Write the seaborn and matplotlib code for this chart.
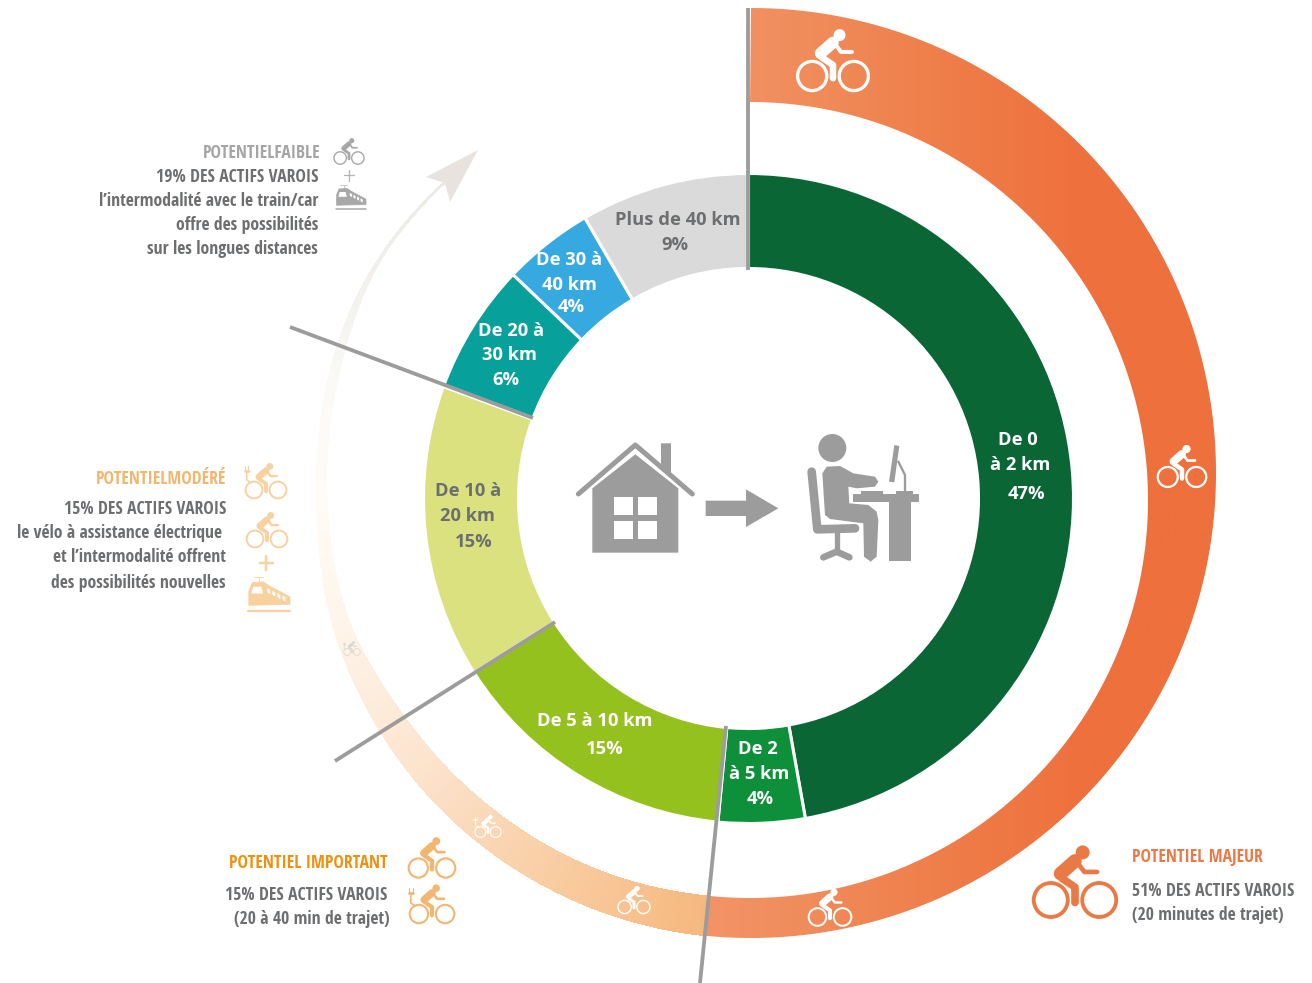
# Donut des distances domicile-travail avec anneau de potentiel velo
import numpy as np
import seaborn as sns
import matplotlib.pyplot as plt
from matplotlib.colors import to_rgb
from matplotlib.patches import Circle, Polygon

# part des actifs par tranche de distance (angles)
tranches = ["De 0 à 2 km", "De 2 à 5 km", "De 5 à 10 km", "De 10 à 20 km",
            "De 20 à 30 km", "De 30 à 40 km", "Plus de 40 km"]
parts = [47.2, 4.3, 14.5, 14.6, 6.5, 4.5, 8.4]
couleurs = ["#0A6635", "#0E8F3A", "#95C11F", "#DCE17F",
            "#08A09A", "#36A9E1", "#DADADA"]

# etiquettes du donut, ligne par ligne
etiquettes = ["De 0", "à 2 km", "47%", "De 2", "à 5 km", "4%", "De 5 à 10 km", "15%",
              "De 10 à", "20 km", "15%", "De 20 à", "30 km", "6%",
              "De 30 à", "40 km", "4%", "Plus de 40 km", "9%"]
etiq_x = [1018, 1020, 1026, 758, 759, 760, 595, 605, 468, 468, 474, 511, 509, 506,
          569, 569, 571, 678, 675]
etiq_y = [440, 465, 494, 749, 774, 799, 721, 749, 491, 516, 542, 331, 355, 380,
          260, 285, 307, 220, 245]
etiq_c = ["w"] * 8 + ["#6D6E70"] * 3 + ["w"] * 6 + ["#6D6E70"] * 2

GRIS = "#9D9C9C"
TEXTE = "#6D6E70"

sns.set_theme(style="white")
plt.rcParams["font.family"] = ["Open Sans Condensed", "DejaVu Sans"]

fig = plt.figure(figsize=(13.12, 9.83), dpi=100)
ax = fig.add_axes([0, 0, 1, 1])
PX = 0.72


def Y(py):
    return 983 - py


def ligne(xs, ys, c, w, zorder=6):
    ax.plot(xs, [Y(v) for v in ys], color=c, lw=w * PX, solid_capstyle="round",
            solid_joinstyle="round", zorder=zorder)


def velo(cx, cy, w, c, prise=False, zorder=7):
    # cx, cy : milieu entre les deux roues
    for dx in (-0.285, 0.285):
        ax.add_patch(Circle((cx + dx * w, Y(cy)), 0.2 * w, fc="none", ec=c,
                            lw=0.045 * w * PX, zorder=zorder))
    ax.add_patch(Circle((cx + 0.09 * w, Y(cy - 0.56 * w)), 0.082 * w, fc=c, ec="none", zorder=zorder))

    def seg(pts, e):
        ligne([cx + p[0] * w for p in pts], [cy - p[1] * w for p in pts], c, e * w, zorder)

    seg([(-0.17, 0.31), (0.0, 0.46)], 0.16)
    seg([(-0.16, 0.26), (0.0, 0.15), (0.0, -0.03)], 0.09)
    seg([(0.02, 0.45), (0.11, 0.33), (0.26, 0.33)], 0.055)
    if prise:
        seg([(-0.36, 0.17), (-0.46, 0.24), (-0.46, 0.42)], 0.035)
        seg([(-0.51, 0.46), (-0.41, 0.46)], 0.06)
        seg([(-0.50, 0.46), (-0.50, 0.56)], 0.025)
        seg([(-0.42, 0.46), (-0.42, 0.56)], 0.025)


def train(x, y, w, c, zorder=7):
    # x, y : coin bas gauche du dessin
    def pts(lst):
        return [(x + p * w, Y(y - q * w)) for p, q in lst]

    ax.add_patch(Polygon(pts([(0.02, 0.16), (0.02, 0.5), (0.1, 0.7), (0.36, 0.72),
                              (0.55, 0.6), (1.0, 0.36), (1.0, 0.18)]), fc=c, ec=c, lw=0.5, zorder=zorder))
    ax.add_patch(Polygon(pts([(0.08, 0.44), (0.12, 0.6), (0.32, 0.6), (0.36, 0.44)]),
                         fc="w", ec="none", zorder=zorder))
    for p in (0.46, 0.58, 0.70, 0.82):
        top = 0.6 - (p - 0.4) * 0.5
        ax.add_patch(Polygon(pts([(p, top), (p + 0.07, top - 0.04), (p + 0.07, top - 0.14), (p, top - 0.1)]),
                             fc="w", ec="none", zorder=zorder))
    ligne([x, x + w], [y - 0.03 * w, y - 0.03 * w], c, 0.05 * w, zorder)
    ligne([x + 0.14 * w, x + 0.36 * w], [y - 0.84 * w, y - 0.84 * w], c, 0.02 * w, zorder)
    ligne([x + 0.25 * w, x + 0.25 * w], [y - 0.84 * w, y - 0.72 * w], c, 0.02 * w, zorder)


def lisse(v, n=31):
    return np.convolve(np.pad(v, n // 2, mode="edge"), np.ones(n) / n, mode="valid")


# --- anneau exterieur : partie orange (degrade horizontal, clippe)
a = np.radians(np.linspace(90, -96, 300))
ext = np.c_[751 + 465 * np.cos(a), Y(473) + 465 * np.sin(a)]
inte = np.c_[750 + 398 * np.cos(a), Y(500) + 398 * np.sin(a)]
croissant = Polygon(np.r_[ext, inte[::-1]], closed=True, fc="none", ec="none", transform=ax.transData)
ax.add_patch(croissant)
degrade = sns.blend_palette(["#F39468", "#F08A58", "#EF7C48", "#EE703C", "#EE703C"], n_colors=256)
im = ax.imshow(np.array(degrade)[None, :, :], extent=[700, 1220, 0, 983], aspect="auto", zorder=1)
im.set_clip_path(croissant)

# --- anneau exterieur : partie qui s'estompe vers la gauche
ang = np.linspace(-96, -226, 300)
k_r = [96, 130, 140, 148, 164, 179, 188, 200.6, 210, 218, 226]
r_in = lisse(np.interp(-ang, k_r, [398, 402, 405, 407, 420, 422, 426, 431, 440.5, 441, 439.5]))
r_out = lisse(np.interp(-ang, k_r, [438, 437, 437, 436, 436, 432, 436, 441, 443.5, 443, 441]))
k_a = [96, 120, 140, 150, 165, 180, 195, 205, 226]
k_c = np.array([to_rgb(c) for c in ["#F6B87E", "#F9CFA6", "#FCE3CC", "#FDEBDA", "#FEF6EC",
                                    "#FFFBF6", "#FCFAF7", "#F5F3F0", "#ECE9E5"]])
for i in range(len(ang) - 1):
    t = np.radians(ang[i:i + 2])
    quad = [(750 + r_in[i] * np.cos(t[0]), Y(500) + r_in[i] * np.sin(t[0])),
            (750 + r_out[i] * np.cos(t[0]), Y(500) + r_out[i] * np.sin(t[0])),
            (750 + r_out[i + 1] * np.cos(t[1]), Y(500) + r_out[i + 1] * np.sin(t[1])),
            (750 + r_in[i + 1] * np.cos(t[1]), Y(500) + r_in[i + 1] * np.sin(t[1]))]
    coul = [np.interp(-ang[i], k_a, k_c[:, j]) for j in range(3)]
    ax.add_patch(Polygon(quad, fc=coul, ec="none", lw=0, antialiased=False, zorder=1))
ax.add_patch(Polygon([(478, Y(150)), (426, Y(177)), (445, Y(183)), (450, Y(202))],
                     fc="#E8E3DF", ec="none", zorder=1))

# --- donut
ax.pie(parts, colors=sns.color_palette(couleurs), center=(748.5, Y(498.5)), radius=325,
       startangle=90, counterclock=False,
       wedgeprops=dict(width=95, edgecolor="white", linewidth=2.2, zorder=3))

# --- traits gris
for xs, ys in [([748, 748], [8, 270]), ([290, 533], [327, 418]),
               ([335, 555], [761, 622]), ([726, 700], [726, 983])]:
    ax.plot(xs, [Y(v) for v in ys], color=GRIS, lw=3.8 * PX, zorder=5, solid_capstyle="butt")

# --- etiquettes du donut
for s, x, y, c in zip(etiquettes, etiq_x, etiq_y, etiq_c):
    ax.text(x, Y(y), s, color=c, ha="center", va="center", fontsize=13.2,
            family=["Open Sans", "DejaVu Sans"], weight="bold", zorder=8)

# --- pictos du centre
z = lambda px, py: (560 + px / 3, Y(420 + py / 3))
zl = lambda pts, e, c=GRIS: ligne([560 + p[0] / 3 for p in pts], [420 + p[1] / 3 for p in pts], c, e / 3)
zp = lambda pts, c=GRIS: ax.add_patch(Polygon([z(*p) for p in pts], fc=c, ec="none", zorder=6))

zl([(55, 222), (226, 75), (397, 222)], 15)
zp([(97, 398), (97, 205), (226, 103), (355, 205), (355, 398)])
zp([(303, 70), (333, 70), (333, 160), (303, 135)])
for x0, y0, x1, y1 in [(162, 230, 218, 285), (234, 230, 290, 285), (162, 302, 218, 357), (234, 302, 290, 357)]:
    zp([(x0, y0), (x1, y0), (x1, y1), (x0, y1)], "w")
zp([(437, 242), (558, 242), (558, 208), (655, 265), (558, 321), (558, 288), (437, 288)])

ax.add_patch(Circle(z(817, 84), 42 / 3, fc=GRIS, ec="none", zorder=6))
zp([(787, 160), (800, 140), (840, 138), (880, 160), (945, 170), (955, 185), (945, 200), (890, 205),
    (865, 200), (868, 250), (925, 255), (950, 275), (955, 300), (950, 410), (932, 425), (912, 410),
    (910, 310), (810, 297), (795, 285)])
zl([(755, 155), (772, 328), (885, 325)], 26)
zl([(830, 335), (830, 395)], 16)
zl([(790, 412), (830, 395), (868, 412)], 20)
zp([(878, 222), (1078, 222), (1078, 247), (878, 247)])
zp([(988, 247), (1052, 247), (1052, 422), (988, 422)])
zp([(1003, 75), (1018, 78), (1003, 187), (987, 185)])
zl([(1015, 125), (1035, 165), (1035, 215)], 7)
zp([(903, 212), (968, 212), (968, 222), (903, 222)])
zp([(1008, 212), (1060, 212), (1060, 222), (1008, 222)])

# --- pictos sur l'anneau
velo(833, 76, 73, "w")
velo(1182, 477, 50, "w")
velo(830, 917, 44, "w")
velo(634, 907, 33, "w")
velo(488, 832, 27, "w", prise=True)
velo(352, 652, 17, "#D8D6D4", prise=True)

# --- pictos des legendes
velo(349, 158, 31, "#A8A8A8")
velo(266, 490, 42, "#F9D19F", prise=True)
velo(267, 539, 42, "#F9D19F")
velo(432, 868, 48, "#F3B671")
velo(432, 914, 46, "#F3B671", prise=True)
velo(1075, 900, 85, "#EA7A45")
train(336, 210, 30, "#A8A8A8")
train(248, 612, 42, "#F9D19F")
ligne([349, 349], [170, 181], "#B5B5B5", 1.3)
ligne([344, 354], [175, 175], "#B5B5B5", 1.3)
ligne([266, 266], [556, 570], "#F9D19F", 2.5)
ligne([260, 273], [563, 563], "#F9D19F", 2.5)

# --- textes
T = [("POTENTIELFAIBLE", 320, 151, "#A5A5A5", "right"),
     ("19% DES ACTIFS VAROIS", 318, 175, TEXTE, "right"),
     ("l’intermodalité avec le train/car", 318, 199, TEXTE, "right"),
     ("offre des possibilités", 318, 224, TEXTE, "right"),
     ("sur les longues distances", 318, 248, TEXTE, "right"),
     ("POTENTIELMODÉRÉ", 226, 477, "#F3B671", "right"),
     ("15% DES ACTIFS VAROIS", 226, 508, TEXTE, "right"),
     ("le vélo à assistance électrique", 222, 532, TEXTE, "right"),
     ("et l’intermodalité offrent", 226, 556, TEXTE, "right"),
     ("des possibilités nouvelles", 226, 581, TEXTE, "right"),
     ("POTENTIEL IMPORTANT", 388, 861, "#EE9010", "right"),
     ("15% DES ACTIFS VAROIS", 387, 894, TEXTE, "right"),
     ("(20 à 40 min de trajet)", 390, 918, TEXTE, "right"),
     ("POTENTIEL MAJEUR", 1132, 855, "#E97A45", "left"),
     ("51% DES ACTIFS VAROIS", 1132, 890, TEXTE, "left"),
     ("(20 minutes de trajet)", 1132, 914, TEXTE, "left")]
for s, x, y, c, ha in T:
    ax.text(x, Y(y + 1.5), s, color=c, ha=ha, va="center", fontsize=12.7, weight="bold", zorder=8)

ax.set_xlim(0, 1312)
ax.set_ylim(0, 983)
ax.set_aspect("auto")
ax.axis("off")
fig.savefig("out.png", dpi=100, facecolor="white")
